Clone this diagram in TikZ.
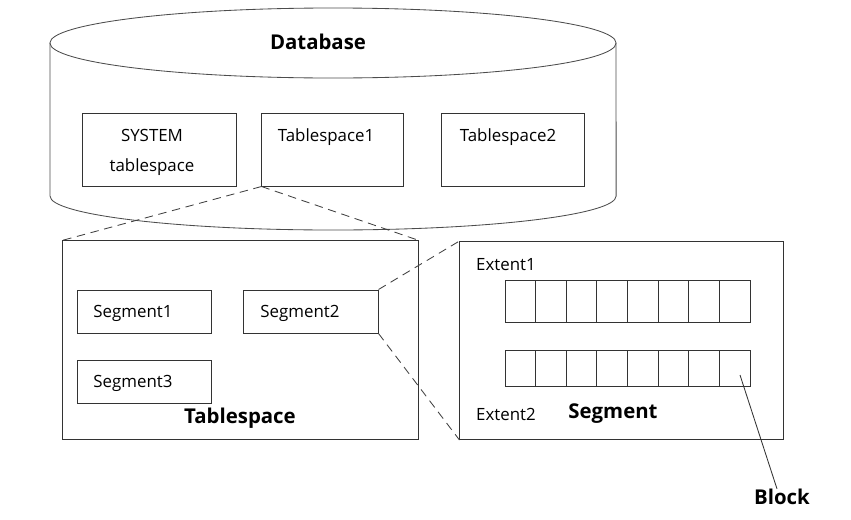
\documentclass[tikz,border=0pt]{standalone}
\usepackage{fontspec}
\setmainfont{Open Sans}
\usetikzlibrary{positioning,calc}

\tikzset{
  box/.style={draw=black!80, line width=0.7pt, rectangle, inner sep=0pt},
  cell/.style={box, minimum width=0.7656cm},
  txt/.style={font=\fontsize{12}{21.3}\selectfont, inner sep=0pt, align=center},
  title/.style={font=\fontsize{14.5}{17}\selectfont\bfseries, inner sep=0pt},
  zoomline/.style={dash pattern=on 6pt off 4pt, line width=0.6pt, black!75}
}

\begin{document}
\begin{tikzpicture}[x=0.025cm, y=-0.025cm]
  \useasboundingbox (0,0) rectangle (851,520);

  % database cylinder
  \draw[black!70, line width=0.6pt] (333,43) ellipse [x radius=7.075cm, y radius=0.875cm];
  \draw[black!70, line width=0.6pt] (50,43) -- (50,196)
        arc[start angle=180, end angle=360, x radius=7.075cm, y radius=0.85cm] -- (616,43);
  \node[title] (dbtitle) at (318,42) {Database};

  % tablespaces
  \node[box, minimum width=3.825cm, minimum height=1.825cm] (sysbox) at (159.5,149.5) {};
  \node[box, minimum width=3.525cm, minimum height=1.825cm] (ts1box) at (332.5,149.5) {};
  \node[box, minimum width=3.55cm, minimum height=1.825cm] (ts2box) at (513,149.5) {};
  \node[txt] (systxt) at (152,152) {SYSTEM\\tablespace};
  \node[txt] (ts1txt) at (326,137) {Tablespace1};
  \node[txt] (ts2txt) at (508,137) {Tablespace2};

  % one tablespace
  \node[box, minimum width=8.9cm, minimum height=4.95cm] (tsbox) at (240.5,340) {};
  \node[box, minimum width=3.325cm, minimum height=1.075cm] (seg1) at (144.5,311.5) {};
  \node[box, minimum width=3.35cm, minimum height=1.075cm] (seg2) at (311,311.5) {};
  \node[box, minimum width=3.325cm, minimum height=1.075cm] (seg3) at (144.5,381.5) {};
  \node[txt] (seg1txt) at (133,313) {Segment1};
  \node[txt] (seg2txt) at (300,313) {Segment2};
  \node[txt] (seg3txt) at (133,383) {Segment3};
  \node[title] (tstitle) at (240,418) {Tablespace};

  % one segment
  \node[box, minimum width=8.075cm, minimum height=4.95cm] (segbox) at (621.5,340.5) {};
  \node[txt] (ext1txt) at (506,265) {Extent1};
  \node[txt] (ext2txt) at (506,414) {Extent2};
  \foreach \i in {1,...,8} {
    \node[cell, minimum height=1.05cm] (ea\i) at ({505+30.625*(\i-0.5)},301) {};
    \node[cell, minimum height=0.9cm] (eb\i) at ({505+30.625*(\i-0.5)},368) {};
  }
  \node[title] (segtitle) at (613,414) {Segment};
  \node[title] (blktitle) at (782,497) {Block};
  \coordinate (blkpt) at (740,375);
  \draw[black!80, line width=0.6pt] (blktitle.north) ++(-5,0) -- (blkpt);

  % zoom lines
  \draw[zoomline] (ts1box.south west) -- (tsbox.north west);
  \draw[zoomline] (ts1box.south west) -- (tsbox.north east);
  \draw[zoomline] (seg2.north east) -- (segbox.north west);
  \draw[zoomline] (seg2.south east) -- (segbox.south west);
\end{tikzpicture}
\end{document}
